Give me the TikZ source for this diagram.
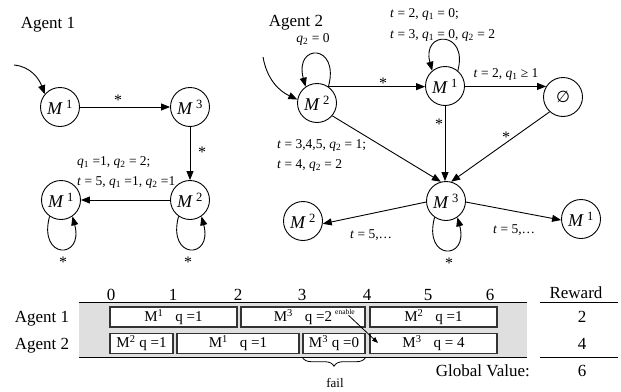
\documentclass[tikz,border=0pt]{standalone}
\usepackage{fontspec}
\setmainfont{Liberation Serif}
\newfontfamily\djvsans{DejaVu Sans}
\usetikzlibrary{arrows.meta,decorations.pathreplacing}
\newcommand{\vi}[1]{\textit{#1}}
\newcommand{\Ms}[1]{\textit{M}\,\textsuperscript{#1}}
\newcommand{\qs}[1]{\textit{q}\textsubscript{#1}}
\begin{document}
\begin{tikzpicture}[x=1pt,y=1pt,
  big/.style={font=\fontsize{17}{20}\selectfont, inner sep=0, anchor=base},
  lab/.style={font=\fontsize{13.5}{15}\selectfont, inner sep=0, anchor=base west},
  labc/.style={font=\fontsize{13.5}{15}\selectfont, inner sep=0, anchor=base},
  star/.style={font=\fontsize{16}{18}\selectfont, inner sep=0, anchor=base},
  st/.style={draw, circle, minimum size=39pt, inner sep=0, line width=0.9pt, font=\fontsize{18}{20}\selectfont},
  arr/.style={-{Triangle[length=9pt,width=7pt]}, line width=0.9pt},
  sarr/.style={-{Triangle[length=6pt,width=4.5pt]}, line width=0.8pt},
  tbox/.style={draw=black!80, line width=1.4pt, fill=white, minimum height=20pt, inner sep=0, font=\fontsize{15}{18}\selectfont},
]
\useasboundingbox (0,0) rectangle (621,-391);

% ---------------- Agent 1 ----------------
\node[big] (ag1) at (48,-28) {Agent 1};
\node[st] (a1) at (60,-107) {\Ms{1}};
\node[st] (a3) at (190,-107) {\Ms{3}};
\node[st] (a2) at (190,-200) {\Ms{2}};
\node[st] (a1b) at (61,-200) {\Ms{1}};
\coordinate (a1s) at (14,-65);
\draw[arr] (a1s) to[out=-5,in=110] (a1.140);
\draw[arr] (a1) -- (a3);
\node[star] (sa1) at (118,-105) {*};
\draw[arr] (a3) -- (a2);
\node[star] (sa2) at (202,-157.5) {*};
\draw[arr] (a2) -- (a1b);
\node[lab] (la1) at (77,-165) {\qs{1} =1, \qs{2} = 2;};
\node[lab] (la2) at (77,-185) {\vi{t} = 5, \qs{1} =1, \qs{2} =1};
\draw[arr] (a1b.235) to[out=255,in=285,distance=45pt] (a1b.305);
\node[star] (sa3) at (63,-267.5) {*};
\draw[arr] (a2.235) to[out=255,in=285,distance=45pt] (a2.305);
\node[star] (sa4) at (188,-267) {*};

% ---------------- Agent 2 ----------------
\node[big] (ag2) at (296,-26) {Agent 2};
\node[st] (b2) at (317,-103) {\Ms{2}};
\node[st] (b1) at (445,-86) {\Ms{1}};
\node[st] (be) at (563,-97) {\djvsans\fontsize{16}{20}\selectfont ∅};
\node[st] (b3) at (446,-201) {\Ms{3}};
\node[st] (b2d) at (303,-221) {\Ms{2}};
\node[st] (b1d) at (581,-219) {\Ms{1}};

\coordinate (b2s) at (263,-57);
\draw[arr] (b2s) to[out=-80,in=155] (b2.170);
\draw[arr] (b2.55) to[out=75,in=105,distance=45pt] (b2.125);
\node[labc] (lq) at (313,-42) {\qs{2} = 0};
\draw[arr] (b2.55) -- (b2.55 -| b1.west);
\node[star] (sb1) at (383,-88.5) {*};
\draw[arr] (b1.50) to[out=75,in=105,distance=42pt] (b1.130);
\node[lab] (lb1) at (390,-17) {\vi{t} = 2, \qs{1} = 0;};
\node[lab] (lb2) at (390,-38) {\vi{t} = 3, \qs{1} = 0, \qs{2} = 2};
\draw[arr] (b1.east |- be.148) -- (be.148);
\node[labc] (lb3) at (506,-77) {\vi{t} = 2, \qs{1} ≥ 1};
\draw[arr] (b1.south) -- (b1.south |- b3.north);
\node[star] (sb2) at (439,-129.5) {*};
\draw[arr] (be.228) -- (b3.75);
\node[star] (sb3) at (506,-142.5) {*};
\draw[arr] (b2.-40) -- (b3.105);
\node[lab] (lb4) at (277,-148) {\vi{t} = 3,4,5, \qs{2} = 1;};
\node[lab] (lb5) at (277,-168) {\vi{t} = 4, \qs{2} = 2};
\draw[arr] (b3.183) -- (b2d.-8);
\node[lab] (lb6) at (350,-238) {\vi{t} = 5,\dots};
\draw[arr] (b3.-3) -- (b1d.183);
\node[lab] (lb7) at (493,-233) {\vi{t} = 5,\dots};
\draw[arr] (b3.235) to[out=255,in=285,distance=45pt] (b3.305);
\node[star] (sb4) at (449,-268.5) {*};

% ---------------- Schedule table ----------------
\fill[gray!25] (79,-302) rectangle (527,-357);
\draw[line width=0.9pt] (79,-302) -- (527,-302);
\draw[line width=0.9pt] (79,-357) -- (527,-357);
\node[big] (c0) at (111,-300) {0};
\node[big] (c1) at (173,-300) {1};
\node[big] (c2) at (238,-300) {2};
\node[big] (c3) at (302,-300) {3};
\node[big] (c4) at (367,-300) {4};
\node[big] (c5) at (428,-300) {5};
\node[big] (c6) at (490,-300) {6};
\node[big] (r1) at (42,-322.5) {Agent 1};
\node[big] (r2) at (42,-349) {Agent 2};

\node[tbox, minimum width=127pt] (A) at (173.5,-317) {M\textsuperscript{1}\hspace{12pt}q =1};
\node[tbox, minimum width=124pt] (B) at (303,-317) {M\textsuperscript{3}\hspace{12pt}q =2\hspace{22pt}};
\node[tbox, minimum width=127pt] (C) at (433.5,-317) {M\textsuperscript{2}\hspace{12pt}q =1};
\node[tbox, minimum width=63pt] (D) at (141.5,-343.5) {M\textsuperscript{2} q =1};
\node[tbox, minimum width=122pt] (E) at (238,-343.5) {M\textsuperscript{1}\hspace{12pt}q =1};
\node[tbox, minimum width=62pt] (F) at (334,-343.5) {M\textsuperscript{3} q =0};
\node[tbox, minimum width=127pt] (G) at (433.5,-343.5) {M\textsuperscript{3}\hspace{12pt}q = 4};

\node[font=\fontsize{7.5}{8}\selectfont, inner sep=0.5pt] (en) at (345,-312) {enable};
\coordinate (ent) at (378,-343);
\draw[sarr] (en) -- (ent);

\draw[decorate, decoration={brace, mirror, amplitude=9pt}, line width=0.8pt]
  ([yshift=-3pt]F.south west) -- ([yshift=-3pt]F.south east);
\node[font=\fontsize{13}{15}\selectfont, inner sep=0, anchor=base] (fail) at (335,-387) {fail};

\node[big] (rw) at (576,-298.5) {Reward};
\draw[line width=0.9pt] (540,-302) -- (618,-302);
\node[big] (v1) at (582,-322.5) {2};
\node[big] (v2) at (582,-349) {4};
\draw[line width=0.9pt] (540,-357) -- (618,-357);
\node[big] (v3) at (582,-376.5) {6};
\node[big, anchor=base east] (gv) at (530,-376.5) {Global Value:};
\end{tikzpicture}
\end{document}
